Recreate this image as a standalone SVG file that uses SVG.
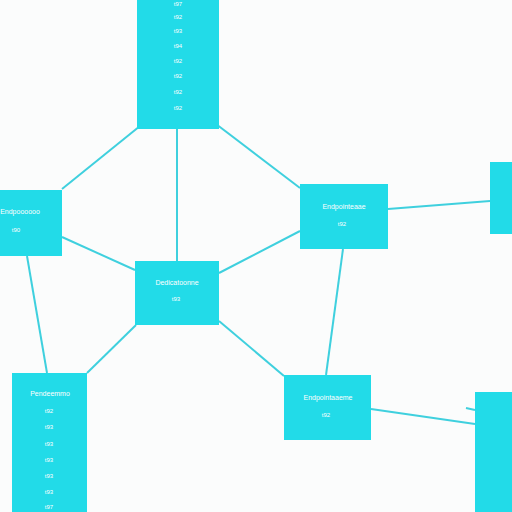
<svg xmlns="http://www.w3.org/2000/svg" width="512" height="512" viewBox="0 0 512 512">
<style>
.n{fill:#22dbe8;}
.e{stroke:#3fd0de;stroke-width:2;fill:none;}
.t{fill:#ffffff;font-family:"Liberation Sans",Arial,sans-serif;font-size:7px;text-anchor:middle;}
.s{fill:#ffffff;font-family:"Liberation Sans",Arial,sans-serif;font-size:6px;text-anchor:middle;}
</style>
<rect width="512" height="512" fill="#fbfcfc"/>
<g id="edges">
<line class="e" x1="140" y1="126" x2="62" y2="189"/>
<line class="e" x1="216" y1="124" x2="300" y2="188"/>
<line class="e" x1="177" y1="129" x2="177" y2="261"/>
<line class="e" x1="62" y1="237" x2="135" y2="270"/>
<line class="e" x1="27" y1="256" x2="47" y2="373"/>
<line class="e" x1="219" y1="273" x2="300" y2="231"/>
<line class="e" x1="136" y1="325" x2="87" y2="373"/>
<line class="e" x1="219" y1="321" x2="284" y2="376"/>
<line class="e" x1="343" y1="249" x2="326" y2="375"/>
<line class="e" x1="388" y1="209" x2="490" y2="201"/>
<line class="e" x1="371" y1="409" x2="475" y2="424"/>
<line class="e" x1="466" y1="408" x2="475" y2="410"/>
</g>
<g id="n-top">
<rect class="n" x="137" y="0" width="82" height="129"/>
<text class="s" x="178" y="6">t97</text>
<text class="s" x="178" y="19">t92</text>
<text class="s" x="178" y="33">t93</text>
<text class="s" x="178" y="48">t94</text>
<text class="s" x="178" y="63">t92</text>
<text class="s" x="178" y="78">t92</text>
<text class="s" x="178" y="94">t92</text>
<text class="s" x="178" y="110">t92</text>
</g>
<g id="n-left">
<rect class="n" x="0" y="190" width="62" height="66"/>
<text class="t" x="20" y="214">Endpoooooo</text>
<text class="s" x="16" y="232">t90</text>
</g>
<g id="n-rightmid">
<rect class="n" x="300" y="184" width="88" height="65"/>
<text class="t" x="344" y="209">Endpointeaae</text>
<text class="s" x="342" y="226">t92</text>
</g>
<g id="n-center">
<rect class="n" x="135" y="261" width="84" height="64"/>
<text class="t" x="177" y="285">Dedicatoonne</text>
<text class="s" x="176" y="301">t93</text>
</g>
<g id="n-botleft">
<rect class="n" x="12" y="373" width="75" height="139"/>
<text class="t" x="50" y="396">Pendeemmo</text>
<text class="s" x="49" y="413">t92</text>
<text class="s" x="49" y="429">t93</text>
<text class="s" x="49" y="446">t93</text>
<text class="s" x="49" y="462">t93</text>
<text class="s" x="49" y="478">t93</text>
<text class="s" x="49" y="494">t93</text>
<text class="s" x="49" y="509">t97</text>
</g>
<g id="n-botmid">
<rect class="n" x="284" y="375" width="87" height="65"/>
<text class="t" x="328" y="400">Endpointaaeme</text>
<text class="s" x="326" y="417">t92</text>
</g>
<g id="n-farright-top">
<rect class="n" x="490" y="162" width="22" height="72"/>
</g>
<g id="n-farright-bot">
<rect class="n" x="475" y="392" width="37" height="120"/>
</g>
</svg>
